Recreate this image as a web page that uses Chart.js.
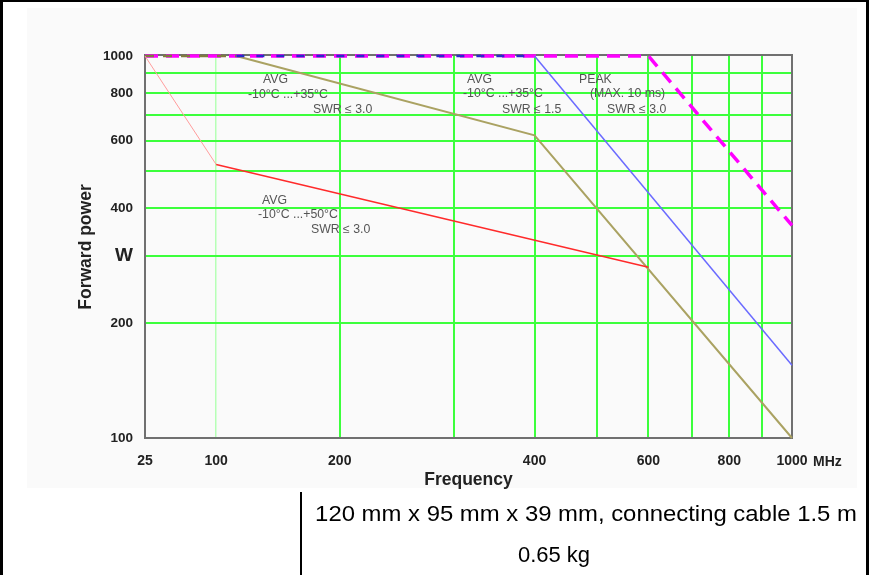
<!DOCTYPE html>
<html>
<head>
<meta charset="utf-8">
<script src="https://cdn.jsdelivr.net/npm/chart.js@4.4.0/dist/chart.umd.min.js"></script>
<style>
  body { margin: 0; background: #fff; }
  #page { position: relative; width: 870px; height: 575px; overflow: hidden; font-family: "Liberation Sans", Arial, sans-serif; }
  #frame { position: absolute; left: 0; top: 0; width: 863px; height: 590px; border-left: 3px solid #000; border-top: 2px solid #000; border-right: 3px solid #000; }
  #shade { position: absolute; left: 27px; top: 8px; width: 830px; height: 480px; background: #fafafa; }
  #chart { position: absolute; left: 0; top: 0; }
  #sep { position: absolute; left: 300px; top: 492px; width: 2px; height: 90px; background: #000; }
  .spec { position: absolute; font-size: 22px; color: #000; white-space: nowrap; transform: translateX(-50%); }
  .spec.wide { transform: translateX(-50%) scaleX(1.086); }
</style>
</head>
<body>
<div id="page">
  <div id="shade"></div>
  <canvas id="chart" width="870" height="492"></canvas>
  <div id="frame"></div>
  <div id="sep"></div>
  <div class="spec wide" style="left:586px; top:501px;">120 mm x 95 mm x 39 mm, connecting cable 1.5 m</div>
  <div class="spec" style="left:554px; top:542px;">0.65 kg</div>
</div>
<script>
// axis ticks
const FREQ_TICKS = [25, 100, 200, 300, 400, 500, 600, 700, 800, 900, 1000];
const FREQ_LABELED = [25, 100, 200, 400, 600, 800, 1000];
const POWER_TICKS = [100, 200, 300, 400, 500, 600, 700, 800, 900, 1000];
const POWER_LABELED = [100, 200, 400, 600, 800, 1000];
const POWER_UNIT_AT = 300;

// AVG -10..+50 C, SWR <= 3.0 (red)
const avg50Freq = [25, 100, 600];
const avg50Power = [1000, 520, 280];
// AVG -10..+35 C, SWR <= 3.0 (olive)
const avg35Freq = [25, 112, 400, 1000];
const avg35Power = [1000, 1000, 620, 100];
// AVG -10..+35 C, SWR <= 1.5 (blue)
const avg15Freq = [112, 400, 1000];
const avg15Power = [1000, 1000, 155];
// PEAK max 10 ms, SWR <= 3.0 (magenta)
const peakFreq = [25, 600, 1000];
const peakPower = [1000, 1000, 360];

const pts = (xs, ys) => xs.map((x, i) => ({ x: x, y: ys[i] }));

// the frequency axis of the original is stretched piecewise (log between knots)
const X_KNOTS = [[25, 0], [100, 0.11], [200, 0.301], [1000, 1]];
function freqToDecimal(v) {
  for (let i = 1; i < X_KNOTS.length; i++) {
    const a = X_KNOTS[i - 1], b = X_KNOTS[i];
    if (v <= b[0] || i === X_KNOTS.length - 1) {
      return a[1] + (b[1] - a[1]) * Math.log(v / a[0]) / Math.log(b[0] / a[0]);
    }
  }
}
function decimalToFreq(d) {
  for (let i = 1; i < X_KNOTS.length; i++) {
    const a = X_KNOTS[i - 1], b = X_KNOTS[i];
    if (d <= b[1] || i === X_KNOTS.length - 1) {
      return a[0] * Math.pow(b[0] / a[0], (d - a[1]) / (b[1] - a[1]));
    }
  }
}
class BandLogScale extends Chart.LinearScale {
  buildTicks() { return FREQ_TICKS.map(v => ({ value: v })); }
  getPixelForValue(v) { return this.getPixelForDecimal(freqToDecimal(v)); }
  getValueForPixel(p) { return decimalToFreq(this.getDecimalForPixel(p)); }
}
BandLogScale.id = 'bandlog';
BandLogScale.defaults = Chart.LinearScale.defaults;
Chart.register(BandLogScale);

const FONT = '"Liberation Sans", Arial, sans-serif';
const GREEN = '#3cff3c';

const NOTES = [
  { x: 263, y: 80, t: 'AVG' }, { x: 248, y: 95, t: '-10°C ...+35°C' }, { x: 313, y: 110, t: 'SWR \u2264 3.0' },
  { x: 467, y: 80, t: 'AVG' }, { x: 463, y: 94, t: '-10°C ...+35°C' }, { x: 502, y: 110, t: 'SWR \u2264 1.5' },
  { x: 579, y: 80, t: 'PEAK' }, { x: 590, y: 94, t: '(MAX. 10 ms)' }, { x: 607, y: 110, t: 'SWR \u2264 3.0' },
  { x: 262, y: 201, t: 'AVG' }, { x: 258, y: 215, t: '-10°C ...+50°C' }, { x: 311, y: 230, t: 'SWR \u2264 3.0' }
];

const decor = {
  id: 'decor',
  beforeDatasetsDraw(chart) {
    const a = chart.chartArea, c = chart.ctx;
    c.save();
    c.strokeStyle = '#707070';
    c.lineWidth = 2;
    c.strokeRect(a.left, a.top - 1, a.right - a.left, a.bottom - a.top + 1);
    c.restore();
  },
  afterDraw(chart) {
    const c = chart.ctx;
    c.save();
    c.fillStyle = '#555';
    c.font = '12.3px ' + FONT;
    c.textBaseline = 'middle';
    NOTES.forEach(n => c.fillText(n.t, n.x, n.y));
    // unit after the last frequency tick
    const xs = chart.scales.x;
    c.fillStyle = '#222';
    c.font = 'bold 14px ' + FONT;
    c.fillText('MHz', xs.getPixelForValue(1000) + 21, 462);
    c.restore();
  }
};

new Chart(document.getElementById('chart'), {
  type: 'line',
  data: {
    datasets: [
      {
        data: pts(avg50Freq, avg50Power),
        borderWidth: 1.5,
        segment: {
          borderColor: ctx => ctx.p0DataIndex === 0 ? '#ff9c9c' : '#ff2a2a',
          borderWidth: ctx => ctx.p0DataIndex === 0 ? 1 : 1.5
        }
      },
      {
        data: pts(avg15Freq, avg15Power),
        borderWidth: 1.5,
        segment: {
          borderColor: ctx => ctx.p0DataIndex === 0 ? '#2a2ac8' : '#6a6aff',
          borderDash: ctx => ctx.p0DataIndex === 0 ? [8, 12] : undefined,
          borderWidth: ctx => ctx.p0DataIndex === 0 ? 2.5 : 1.5
        }
      },
      {
        data: pts(avg35Freq, avg35Power),
        borderWidth: 2,
        segment: {
          borderColor: ctx => ctx.p0DataIndex === 0 ? '#807a40' : '#aaa262',
          borderDash: ctx => ctx.p0DataIndex === 0 ? [9, 9] : undefined,
          borderWidth: ctx => ctx.p0DataIndex === 0 ? 2.5 : 2
        }
      },
      {
        data: pts(peakFreq, peakPower),
        borderColor: '#ff00ff',
        borderWidth: 3.5,
        borderDash: [13, 8]
      }
    ]
  },
  options: {
    responsive: false,
    animation: false,
    parsing: false,
    layout: { padding: { left: 0, top: 56, right: 78, bottom: 0 } },
    elements: { point: { radius: 0 }, line: { tension: 0 } },
    datasets: { line: { clip: false } },
    plugins: { legend: { display: false }, tooltip: { enabled: false } },
    scales: {
      x: {
        type: 'bandlog',
        min: 25,
        max: 1000,
        afterFit: s => { s.height = 54; },
        border: { display: false },
        grid: {
          drawTicks: false,
          color: ctx => {
            const v = ctx.tick && ctx.tick.value;
            if (v === 25) return 'rgba(0,0,0,0)';
            if (v === 100) return '#b6ffb6';
            return GREEN;
          },
          lineWidth: ctx => (ctx.tick && ctx.tick.value === 100) ? 1.5 : 2
        },
        ticks: {
          autoSkip: false,
          maxRotation: 0,
          padding: 15,
          color: '#222',
          font: { family: FONT, size: 14, weight: 'bold' },
          callback: v => FREQ_LABELED.includes(v) ? String(v) : ''
        },
        title: {
          display: true,
          text: 'Frequency',
          color: '#222',
          font: { family: FONT, size: 17.5, weight: 'bold' },
          padding: { top: 0, bottom: 1 }
        }
      },
      y: {
        type: 'logarithmic',
        min: 100,
        max: 1000,
        afterBuildTicks: s => { s.ticks = POWER_TICKS.map(v => ({ value: v })); },
        afterFit: s => { s.width = 145; },
        border: { display: false },
        grid: {
          drawTicks: false,
          color: ctx => {
            const v = ctx.tick && ctx.tick.value;
            return (v === 100 || v === 1000) ? 'rgba(0,0,0,0)' : GREEN;
          },
          lineWidth: 2
        },
        ticks: {
          autoSkip: false,
          padding: 12,
          color: '#222',
          font: ctx => (ctx.tick && ctx.tick.value === POWER_UNIT_AT)
            ? { family: FONT, size: 19, weight: 'bold' }
            : { family: FONT, size: 13.5, weight: 'bold' },
          callback: v => v === POWER_UNIT_AT ? 'W' : (POWER_LABELED.includes(v) ? String(v) : '')
        },
        title: {
          display: true,
          text: 'Forward power',
          color: '#222',
          font: { family: FONT, size: 17.5, weight: 'bold' },
          padding: { top: 76, bottom: 0 }
        }
      }
    }
  },
  plugins: [decor]
});
</script>
</body>
</html>
